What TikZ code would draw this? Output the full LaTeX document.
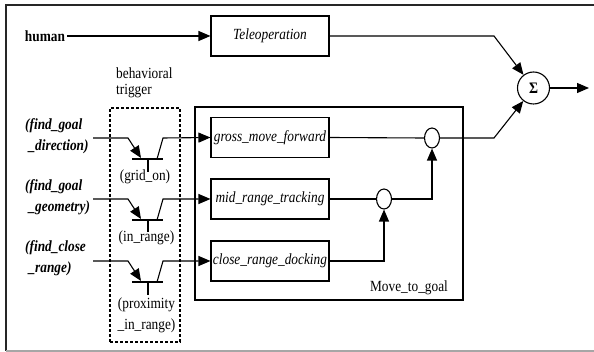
\documentclass[tikz,border=0pt]{standalone}
\usepackage{fontspec}
\setmainfont[FakeStretch=0.86]{Liberation Serif}
\usetikzlibrary{arrows.meta,shapes.geometric}
\begin{document}
\begin{tikzpicture}[x=1pt,y=-1pt,
  every node/.style={font=\fontsize{15.5}{18}\selectfont},
  box/.style={draw,line width=1.1pt,minimum width=118pt,minimum height=40pt,inner sep=0pt,font=\fontsize{15.5}{18}\selectfont\itshape},
  ln/.style={line width=1.1pt},
  arr/.style={ln,-{Triangle[length=12pt,width=10pt]}},
  junc/.style={draw,ellipse,line width=1.1pt,minimum width=15pt,minimum height=20pt,inner sep=0pt,fill=white},
  inlab/.style={align=left,inner sep=0pt,font=\fontsize{15.5}{21}\selectfont\bfseries\itshape},
  trig/.style={align=center,inner sep=0pt,font=\fontsize{15.5}{21}\selectfont},
]
\useasboundingbox (0,0) rectangle (594,352);
% frame
\draw[line width=1.4pt,black!85] (594,5) -- (6,5) -- (6,351);
\draw[line width=1pt,black!35] (6,351) -- (594,351);

% top path
\node[inner sep=2pt,font=\fontsize{15.5}{18}\selectfont\bfseries] (human) at (45,36) {human};
\node[box] (tele) at (270,36) {Teleoperation};
\node[draw,circle,line width=1.1pt,minimum size=32pt,inner sep=0pt,font=\fontsize{16}{18}\selectfont\bfseries] (sigma) at (533.5,88) {Σ};
\coordinate (out) at (589,88);
\draw[arr] (human.east) -- (tele.west);
\draw[arr] (tele.east) -- (494,36) -- (sigma);
\draw[arr] (sigma.east) -- (out);

% move to goal box
\node[draw,line width=1.1pt,minimum width=268pt,minimum height=193pt,inner sep=0pt] (mtg) at (329,203.5) {};
\node[inner sep=0pt] (mtglab) at (409,288) {Move\_to\_goal};
\node[box] (gmf) at (270,137.5) {gross\_move\_forward};
\node[box] (mrt) at (270,199) {mid\_range\_tracking};
\node[box] (crd) at (270,261) {close\_range\_docking};
\node[junc] (e1) at (432,138) {};
\node[junc] (e2) at (384,199) {};
\draw[ln] (gmf.east) -- (e1.west);
\draw[arr] (e1.east) -- (494,138) -- (sigma);
\draw[ln] (mrt.east) -- (e2.west);
\draw[arr] (e2.east) -- (432,199) -- (e1.south);
\draw[arr] (crd.east) -- (384,261) -- (e2.south);

% behavioral trigger
\node[align=left,inner sep=0pt,anchor=north west,font=\fontsize{15.5}{16}\selectfont] (bt) at (116,68) {behavioral\\trigger};
\node[draw,dashed,dash pattern=on 3pt off 2pt,line width=1.3pt,minimum width=70pt,minimum height=234pt,inner sep=0pt] (trg) at (145,225) {};

% input labels
\node[inlab,anchor=west] (l1) at (25,136.5) {(find\_goal\\\ \_direction)};
\node[inlab,anchor=west] (l2) at (25,197) {(find\_goal\\\ \_geometry)};
\node[inlab,anchor=west] (l3) at (25,258) {(find\_close\\\ \_range)};

% switch 1
\coordinate (i1) at (93,138);
\coordinate (k1) at (128,138);
\coordinate (t1) at (141,158);
\coordinate (ba1) at (132,159);
\coordinate (bb1) at (163,159);
\coordinate (tk1) at (148,159);
\coordinate (o1) at (157,159);
\coordinate (u1) at (163,138);
\node[trig] (g1) at (145,177) {(grid\_on)};
\draw[arr] (i1) -- (k1) -- (t1);
\draw[ln] (ba1) -- (bb1);
\draw[ln] (tk1) -- (148,172);
\draw[arr] (o1) -- (u1) -- (gmf.west);

% switch 2
\coordinate (i2) at (93,199);
\coordinate (k2) at (128,199);
\coordinate (t2) at (141,219);
\coordinate (ba2) at (132,220);
\coordinate (bb2) at (163,220);
\coordinate (tk2) at (148,220);
\coordinate (o2) at (157,220);
\coordinate (u2) at (163,199);
\node[trig] (g2) at (146.5,238) {(in\_range)};
\draw[arr] (i2) -- (k2) -- (t2);
\draw[ln] (ba2) -- (bb2);
\draw[ln] (tk2) -- (148,232);
\draw[arr] (o2) -- (u2) -- (mrt.west);

% switch 3
\coordinate (i3) at (93,261);
\coordinate (k3) at (128,261);
\coordinate (t3) at (141,281);
\coordinate (ba3) at (132,282);
\coordinate (bb3) at (163,282);
\coordinate (tk3) at (148,282);
\coordinate (o3) at (157,282);
\coordinate (u3) at (163,261);
\node[trig] (g3) at (146.5,315) {(proximity\\\_in\_range)};
\draw[arr] (i3) -- (k3) -- (t3);
\draw[ln] (ba3) -- (bb3);
\draw[ln] (tk3) -- (148,295);
\draw[arr] (o3) -- (u3) -- (crd.west);
\end{tikzpicture}
\end{document}
